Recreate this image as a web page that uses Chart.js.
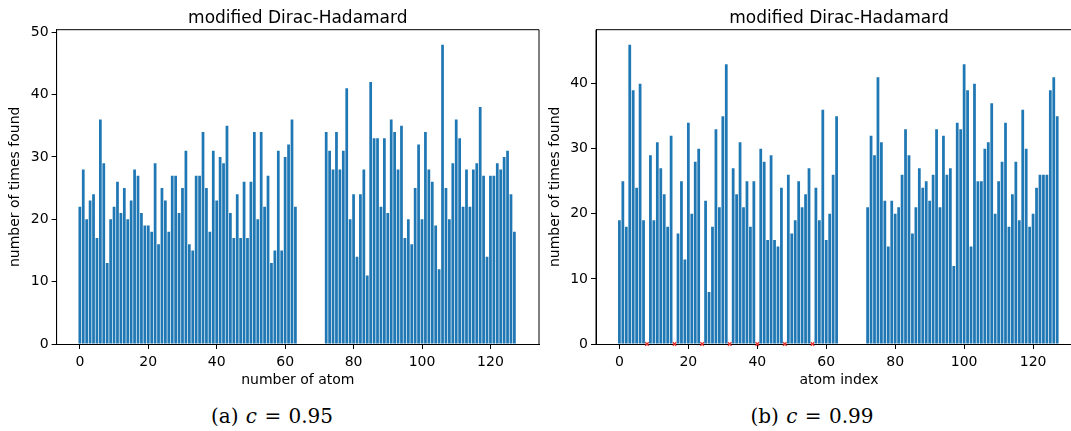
<!DOCTYPE html>
<html>
<head>
<meta charset="utf-8">
<script src="https://cdn.jsdelivr.net/npm/chart.js@4/dist/chart.umd.min.js"></script>
<style>
  html, body { margin: 0; padding: 0; background: #fff; }
  body { position: relative; width: 1071px; height: 431px; overflow: hidden; }
  canvas { position: absolute; top: 0; }
  .cap { position: absolute; top: 404px; line-height: 24px; font-family: 'DejaVu Serif', serif; font-size: 20px; color: #000; transform: translateX(-50%); white-space: nowrap; word-spacing: 1px; }
</style>
</head>
<body>
<canvas id="chartA" width="545" height="400" style="left:0px"></canvas>
<canvas id="chartB" width="550" height="400" style="left:540px"></canvas>
<div class="cap" style="left:272px">(a) <i>c</i> = 0.95</div>
<div class="cap" style="left:812px">(b) <i>c</i> = 0.99</div>
<script>
// atom indices 0..127 (64-71 have no bar)
const atomIdx = Array.from({ length: 128 }, (_, i) => i);

const countsA = [
  22, 28, 20, 23, 24, 17, 36, 29, 13, 20,
  22, 26, 21, 25, 20, 23, 28, 27, 21, 19,
  19, 18, 29, 16, 25, 23, 18, 27, 27, 21,
  25, 31, 16, 15, 27, 27, 34, 25, 18, 31,
  23, 30, 29, 35, 21, 17, 24, 17, 26, 17,
  26, 34, 20, 34, 22, 27, 13, 15, 31, 15,
  30, 32, 36, 22,
  null, null, null, null, null, null, null, null,
  34, 31, 28, 34, 28, 31, 41, 20,
  24, 14, 24, 28, 11, 42, 33, 33, 22, 33,
  21, 36, 34, 28, 35, 17, 20, 16, 25, 32,
  20, 34, 28, 26, 19, 12, 48, 25, 20, 29,
  36, 33, 22, 28, 22, 28, 29, 38, 27, 14,
  27, 27, 29, 28, 30, 31, 24, 18
];

const countsB = [
  19, 25, 18, 46, 39, 24, 40, 19, 0,
  29, 19, 31, 27, 23, 18, 32, 0,
  17, 25, 13, 34, 20, 28, 30, 0,
  22, 8, 18, 33, 21, 35, 43, 0,
  27, 23, 31, 21, 25, 18, 25, 0,
  30, 28, 16, 29, 16, 15, 24, 0,
  26, 17, 19, 25, 21, 23, 27, 0,
  24, 19, 36, 16, 20, 26, 35,
  null, null, null, null, null, null, null, null,
  21, 32, 29, 41, 31, 22, 15, 22,
  20, 21, 26, 33, 29, 17, 21, 27, 24, 25,
  22, 26, 33, 21, 32, 26, 27, 12, 34, 33,
  43, 39, 15, 40, 25, 25, 30, 31, 37, 20,
  25, 28, 34, 18, 23, 28, 19, 36, 30, 18,
  20, 24, 26, 26, 26, 39, 41, 35
];

// red x markers on the axis in panel (b)
const markerIdx = [8, 16, 24, 32, 40, 48, 56];

const xTicks = [0, 20, 40, 60, 80, 100, 120];
const yTicksA = [0, 10, 20, 30, 40, 50];
const yTicksB = [0, 10, 20, 30, 40];

const FONT = 'DejaVu Sans';

const framePlugin = {
  id: 'frame',
  afterDraw(chart) {
    const { ctx, chartArea: a } = chart;
    ctx.save();
    ctx.strokeStyle = '#000';
    ctx.lineWidth = 1;
    ctx.beginPath();
    ctx.moveTo(a.left, a.bottom);
    ctx.lineTo(a.left, a.top);
    ctx.lineTo(a.right, a.top);
    ctx.lineTo(a.right, a.bottom);
    ctx.stroke();
    ctx.fillStyle = '#000';
    ctx.font = '17px ' + FONT;
    ctx.textAlign = 'center';
    ctx.textBaseline = 'alphabetic';
    ctx.fillText(chart.options.plugins.frame.title, (a.left + a.right) / 2, 22.7);
    ctx.restore();
  }
};

function renderPanel(id, counts, opts) {
  const ctx = document.getElementById(id);
  if (!ctx) return;
  const bars = atomIdx.map((x, i) => ({ x, y: counts[i] })).filter(p => p.y !== null);
  const datasets = [];
  if (opts.markers) {
    datasets.push({
      type: 'scatter',
      data: opts.markers.map(x => ({ x, y: 0 })),
      pointStyle: 'crossRot',
      pointRadius: 2.5,
      borderColor: '#e8302a',
      backgroundColor: '#e8302a',
      borderWidth: 1.3,
      clip: false,
    });
  }
  datasets.push({
    type: 'bar',
    data: bars,
    backgroundColor: '#1f77b4',
    borderWidth: 0,
    barPercentage: 0.8,
    categoryPercentage: 1,
  });
  const tickFont = { family: FONT, size: 14 };
  new Chart(ctx, {
    type: 'bar',
    data: { datasets },
    options: {
      responsive: false,
      animation: false,
      layout: { padding: { top: 29.7, right: opts.padRight, bottom: 6, left: 0 } },
      plugins: {
        legend: { display: false },
        tooltip: { enabled: false },
        frame: { title: 'modified Dirac-Hadamard' },
      },
      scales: {
        x: {
          type: 'linear',
          offset: false,
          min: -6.79,
          max: 134.19,
          afterFit: s => { s.height = 50; },
          afterBuildTicks: s => { s.ticks = xTicks.map(v => ({ value: v })); },
          ticks: { color: '#000', font: tickFont, padding: 5, maxRotation: 0 },
          grid: { offset: false, drawOnChartArea: false, drawTicks: true, tickLength: 5, tickColor: '#000' },
          border: { color: '#000', width: 1 },
          title: { display: true, text: opts.xTitle, color: '#000', font: tickFont, padding: { top: 0, bottom: 5 } },
        },
        y: {
          min: 0,
          max: opts.yMax,
          afterFit: s => { s.width = opts.yWidth; },
          afterBuildTicks: s => { s.ticks = opts.yTicks.map(v => ({ value: v })); },
          ticks: { color: '#000', font: tickFont, padding: 3 },
          grid: { offset: false, drawOnChartArea: false, drawTicks: true, tickLength: 5, tickColor: '#000' },
          border: { color: '#000', width: 1 },
          title: { display: true, text: 'number of times found', color: '#000', font: tickFont, padding: { top: 6.5, bottom: 0 } },
        }
      }
    },
    plugins: [framePlugin]
  });
}

renderPanel('chartA', countsA, { yMax: 50.4, yTicks: yTicksA, xTitle: 'number of atom', yWidth: 56.6, padRight: 6 });
renderPanel('chartB', countsB, { yMax: 48.3, yTicks: yTicksB, xTitle: 'atom index', yWidth: 56, padRight: 8, markers: markerIdx });
</script>
</body>
</html>
